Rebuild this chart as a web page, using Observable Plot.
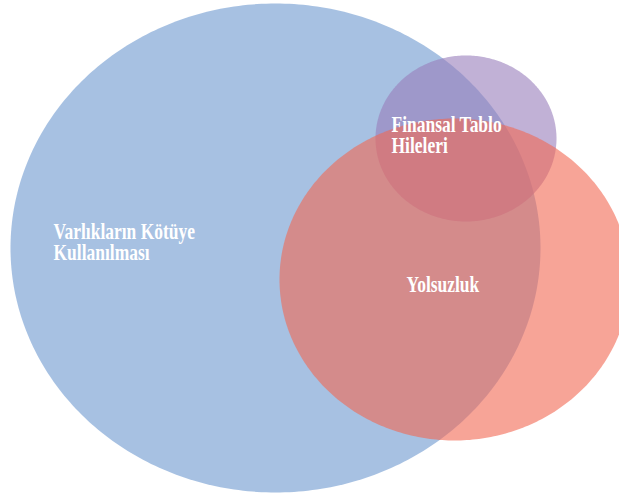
<!DOCTYPE html>
<html>
<head>
<meta charset="utf-8">
<script src="https://cdn.jsdelivr.net/npm/d3@7"></script>
<script src="https://cdn.jsdelivr.net/npm/@observablehq/plot@0.6"></script>
<style>
  html, body { margin: 0; padding: 0; background: #fff; }
  #chart svg { display: block; }
</style>
</head>
<body>
<div id="chart"></div>
<script>
// Sets of the Venn diagram (drawing order: first is bottom)
const setNames   = ["Varlıkların Kötüye Kullanılması", "Finansal Tablo Hileleri", "Yolsuzluk"];
const setCx      = [275, 465.5, 454];
const setCy      = [247.5, 138, 279];
const setRx      = [265, 90.5, 175];
const setRy      = [244.5, 83, 161];
const setColors  = ["#6c98cf", "#987dbb", "#f16851"];

// Label lines
const labelLines = ["Varlıkların Kötüye", "Kullanılması", "Finansal Tablo", "Hileleri", "Yolsuzluk"];
const labelX     = [53, 53, 391, 391, 406];
const labelY     = [238, 259.5, 131, 152, 291];

// Build ellipse outlines from each set's center and radii
const angles = d3.range(0, 360, 1);
const outline = [];
setNames.forEach((name, i) => {
  angles.forEach(a => {
    const t = a * Math.PI / 180;
    outline.push({set: name, x: setCx[i] + setRx[i] * Math.cos(t), y: setCy[i] + setRy[i] * Math.sin(t)});
  });
});
const labels = labelLines.map((t, i) => ({text: t, x: labelX[i], y: labelY[i]}));

const W = 619, H = 496;
const chart = Plot.plot({
  width: W,
  height: H,
  margin: 0,
  x: {domain: [0, W], range: [0, W], axis: null},
  y: {domain: [0, H], range: [0, H], axis: null},
  color: {domain: setNames, range: setColors},
  marks: [
    Plot.line(outline, {x: "x", y: "y", z: "set", fill: "set", fillOpacity: 0.6, stroke: null, curve: "linear-closed"}),
    Plot.text(labels, {
      x: "x", y: "y", text: "text",
      textAnchor: "start", lineAnchor: "bottom",
      fill: "white", fontSize: 23, fontWeight: "bold",
      fontFamily: "'Liberation Serif', 'Times New Roman', serif"
    })
  ]
});
d3.select(chart).selectAll("text").each(function() {
  const el = d3.select(this);
  const tr = el.attr("transform");
  if (tr) el.attr("transform", tr + " scale(0.76,1)");
});
document.getElementById("chart").appendChild(chart);
</script>
</body>
</html>
